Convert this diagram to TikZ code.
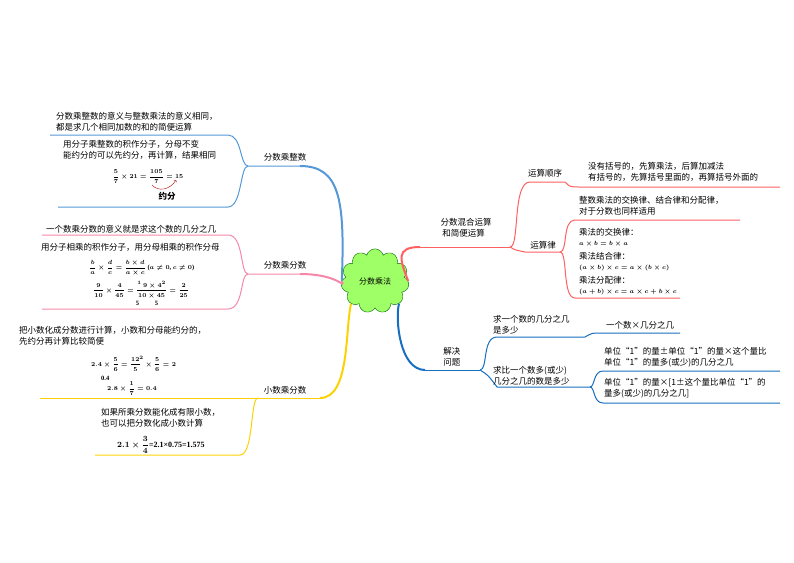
\documentclass[tikz,border=0pt]{standalone}
\usepackage{fontspec}
\setmainfont{Noto Sans CJK SC}
\newfontfamily\mathf{Liberation Serif}
\usetikzlibrary{shapes.symbols}
\begin{document}
\begin{tikzpicture}[x=1pt,y=-1pt,
  t/.style={font=\fontsize{8.5}{11}\selectfont,align=left,inner sep=1pt},
  f/.style={font=\mathf\bfseries\boldmath\fontsize{6.5}{8}\selectfont,inner sep=1pt},
  bl/.style={draw=cyan!60!blue!70,line width=1pt},
  pk/.style={draw=magenta!30!pink,line width=1pt},
  yl/.style={draw=yellow!70!orange,line width=1pt},
  rd/.style={draw=red!50!pink,line width=1pt},
  bb/.style={draw=cyan!50!blue,line width=1pt}]
\useasboundingbox (0,0) rectangle (794,562);
% center
\node[cloud,cloud puffs=11,draw=green!40!black,fill=green!50!lime!60,minimum width=68,minimum height=34,font=\fontsize{8}{10}\selectfont] (c) at (375,281) {分数乘法};
% left branch nodes
\node[t] (n1) at (285,157) {分数乘整数};
\node[t] (n2) at (285,265) {分数乘分数};
\node[t] (n3) at (285,390) {小数乘分数};
\draw[line width=2pt,draw=cyan!60!blue!70] (c.west) .. controls (345,200) and (340,166) .. (300,166);
\draw[bl] (300,166) -- (248,166) .. controls (240,166) and (242,135) .. (228,135) -- (50,135);
\draw[bl] (248,166) .. controls (240,166) and (242,207) .. (228,207) -- (58,207);
\draw[line width=2pt,draw=magenta!30!pink] (c.west) .. controls (345,290) and (340,274) .. (300,274);
\draw[pk] (300,274) -- (248,274) .. controls (240,274) and (244,235) .. (228,235) -- (42,235);
\draw[pk] (248,274) .. controls (240,274) and (244,309) .. (228,309) -- (42,309);
\draw[line width=2pt,draw=yellow!70!orange] (c.south west) .. controls (345,330) and (350,398) .. (320,398);
\draw[yl] (320,398) -- (40,398);
\draw[yl] (258,398) .. controls (250,398) and (254,455) .. (240,455) -- (95,455);
% left texts
\node[t,anchor=west] (a1) at (55,122) {分数乘整数的意义与整数乘法的意义相同，\\都是求几个相同加数的和的简便运算};
\node[t,anchor=west] (a2) at (62,150) {用分子乘整数的积作分子，分母不变\\能约分的可以先约分，再计算，结果相同};
\node[f] (a3) at (148,177) {$\displaystyle\frac{5}{7}\times21=\frac{105}{7}=15$};
\node[t,font=\bfseries\fontsize{8.5}{10}\selectfont] (a4) at (167,196) {约分};
\draw[->,red!70!black,thin] (152,185) .. controls (158,192) and (170,190) .. (176,180);
\node[t,anchor=west] (b1) at (45,229) {一个数乘分数的意义就是求这个数的几分之几};
\node[t,anchor=west] (b2) at (40,247) {用分子相乘的积作分子，用分母相乘的积作分母};
\node[f,anchor=west] (b3) at (88,268) {$\displaystyle\frac{b}{a}\times\frac{d}{c}=\frac{b\times d}{a\times c}$\ ($a\neq0$,\ $c\neq0$)};
\node[f,anchor=west] (b4) at (92,290) {$\displaystyle\frac{9}{10}\times\frac{4}{45}=\frac{{}^1\,9\times4^2}{10\times45}=\frac{2}{25}$};
\node[f] (b5) at (147,303) {5\hspace{16pt}5};
\node[t,anchor=west] (d1) at (18,336) {把小数化成分数进行计算，小数和分母能约分的，\\先约分再计算比较简便};
\node[f,anchor=west] (d2) at (90,364) {$\displaystyle2.4\times\frac{5}{6}=\frac{12}{5}^{\!2}\times\frac{5}{6}=2$};
\node[f,anchor=west] (d3) at (100,378) {0.4};
\node[f,anchor=west] (d4) at (106,389) {$\displaystyle2.8\times\frac{1}{7}=0.4$};
\node[t,anchor=west] (d5) at (100,418) {如果所乘分数能化成有限小数，\\也可以把分数化成小数计算};
\node[f,anchor=west,font=\mathf\bfseries\boldmath\fontsize{8}{10}\selectfont] (d6) at (116,445) {$\displaystyle2.1\times\frac{3}{4}$=2.1×0.75=1.575};
% right branches
\node[t] (m1) at (466,228) {分数混合运算\\\ 和简便运算};
\draw[line width=2pt,draw=red!50!pink] (c.east) .. controls (400,260) and (395,247) .. (420,247);
\draw[rd] (420,247) -- (510,247);
\node[t] (r1) at (545,173) {运算顺序};
\node[t] (r2) at (543,245) {运算律};
\draw[rd] (510,247) .. controls (520,247) and (512,182) .. (530,182) -- (565,182) .. controls (570,187) .. (580,187) -- (780,187);
\draw[rd] (510,247) .. controls (515,250) .. (525,252) -- (560,252);
\draw[rd] (560,252) .. controls (568,252) and (562,220) .. (575,220) -- (740,220);
\draw[rd] (560,252) .. controls (568,252) and (562,298) .. (575,298) -- (680,298);
\node[t,anchor=west] (r3) at (587,172) {没有括号的，先算乘法，后算加减法\\有括号的，先算括号里面的，再算括号外面的};
\node[t,anchor=west] (r4) at (578,206) {整数乘法的交换律、结合律和分配律，\\对于分数也同样适用};
\node[t,anchor=west] (r5) at (578,232) {乘法的交换律：};
\node[f,anchor=west] (r6) at (578,244) {$a\times b=b\times a$};
\node[t,anchor=west] (r7) at (578,256) {乘法结合律：};
\node[f,anchor=west] (r8) at (578,268) {$(a\times b)\times c=a\times(b\times c)$};
\node[t,anchor=west] (r9) at (578,280) {乘法分配律：};
\node[f,anchor=west] (r10) at (578,292) {$(a+b)\times c=a\times c+b\times c$};
% lower right
\node[t] (s1) at (451,357) {\ 解决\\\ 问题};
\draw[line width=2pt,draw=cyan!50!blue] (c.south east) .. controls (395,320) and (400,370) .. (425,370);
\draw[bb] (425,370) -- (480,370);
\draw[bb] (480,370) .. controls (488,370) and (482,337) .. (497,337) -- (585,337) .. controls (592,333) .. (600,333) -- (680,333);
\draw[bb] (480,370) .. controls (488,375) .. (497,387) -- (590,387);
\draw[bb] (590,387) .. controls (595,387) and (593,371) .. (603,371) -- (780,371);
\draw[bb] (590,387) .. controls (595,387) and (593,403) .. (603,403) -- (780,403);
\node[t,anchor=west] (s2) at (492,325) {求一个数的几分之几\\是多少};
\node[t,anchor=west] (s3) at (605,325) {一个数×几分之几};
\node[t,anchor=west] (s4) at (492,376) {求比一个数多(或少)\\几分之几的数是多少};
\node[t,anchor=west] (s5) at (603,357) {单位“1”的量±单位“1”的量×这个量比\\单位“1”的量多(或少)的几分之几};
\node[t,anchor=west] (s6) at (603,388) {单位“1”的量×[1±这个量比单位“1”的\\量多(或少)的几分之几]};
\end{tikzpicture}
\end{document}
